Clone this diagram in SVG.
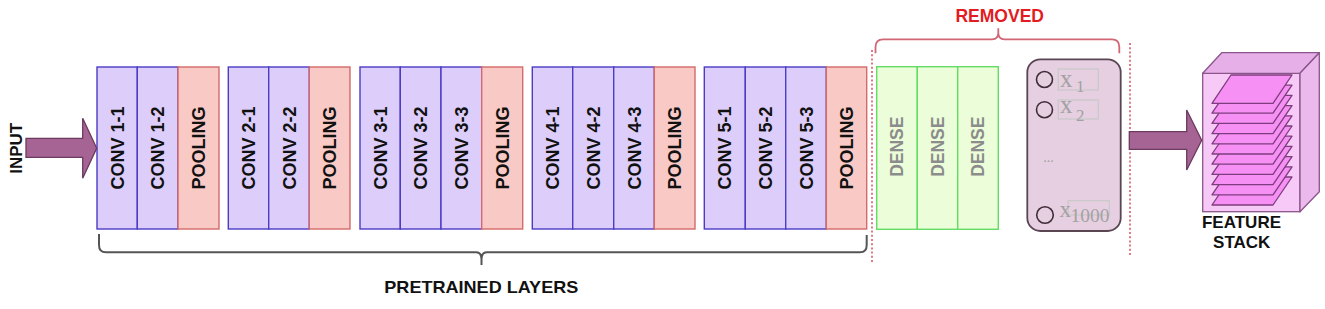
<svg xmlns="http://www.w3.org/2000/svg" width="1325" height="309" viewBox="0 0 1325 309">
<style>
.conv{fill:#dccdfa;stroke:#4a3cc4;stroke-width:1.4}
.pool{fill:#f9c9c5;stroke:#d46a6a;stroke-width:1.4}
.dense{fill:#ebfed9;stroke:#62dc62;stroke-width:1.4}
.lbl{font-family:"Liberation Sans",Arial,sans-serif;font-weight:bold;font-size:18px;fill:#111;text-anchor:middle}
.dlbl{font-family:"Liberation Sans",Arial,sans-serif;font-weight:bold;font-size:17.5px;fill:#8c8c8c;text-anchor:middle}
.cap{font-family:"Liberation Sans",Arial,sans-serif;font-weight:bold;font-size:17px;fill:#111;text-anchor:middle}
.arrow{fill:#a66494;stroke:#6b3a5e;stroke-width:1.3}
.dots{stroke:#e07b86;stroke-width:2;stroke-dasharray:2 2.2;fill:none}
.xs{font-family:"Liberation Serif","Times New Roman",serif;fill:#a2a2a2}
.xbox{fill:none;stroke:#c8c8c8;stroke-width:1.2}
.layer{fill:#f690f4;stroke:#7d3c7d;stroke-width:1.3;stroke-linejoin:round}
</style>
<rect width="1325" height="309" fill="#ffffff"/>

<!-- input label -->
<g id="input">
<text class="cap" transform="translate(22.2,148.3) rotate(-90)">INPUT</text>
</g>

<!-- block 1 -->
<g id="block1">
<rect class="conv" x="97" y="67" width="40.3" height="162"/>
<rect class="conv" x="137.3" y="67" width="40.7" height="162"/>
<rect class="pool" x="178" y="67" width="41" height="162"/>
<text class="lbl" transform="translate(123.5,148) rotate(-90)">CONV 1-1</text>
<text class="lbl" transform="translate(164,148) rotate(-90)">CONV 1-2</text>
<text class="lbl" transform="translate(205,148) rotate(-90)">POOLING</text>
</g>

<!-- block 2 -->
<g id="block2">
<rect class="conv" x="228.3" y="67" width="40.4" height="162"/>
<rect class="conv" x="268.7" y="67" width="40.6" height="162"/>
<rect class="pool" x="309.3" y="67" width="40.7" height="162"/>
<text class="lbl" transform="translate(255,148) rotate(-90)">CONV 2-1</text>
<text class="lbl" transform="translate(295.5,148) rotate(-90)">CONV 2-2</text>
<text class="lbl" transform="translate(336.2,148) rotate(-90)">POOLING</text>
</g>

<!-- block 3 -->
<g id="block3">
<rect class="conv" x="360" y="67" width="40.3" height="162"/>
<rect class="conv" x="400.3" y="67" width="40.7" height="162"/>
<rect class="conv" x="441" y="67" width="40.7" height="162"/>
<rect class="pool" x="481.7" y="67" width="41" height="162"/>
<text class="lbl" transform="translate(386.5,148) rotate(-90)">CONV 3-1</text>
<text class="lbl" transform="translate(427.2,148) rotate(-90)">CONV 3-2</text>
<text class="lbl" transform="translate(467.8,148) rotate(-90)">CONV 3-3</text>
<text class="lbl" transform="translate(508.7,148) rotate(-90)">POOLING</text>
</g>

<!-- block 4 -->
<g id="block4">
<rect class="conv" x="532.3" y="67" width="40.4" height="162"/>
<rect class="conv" x="572.7" y="67" width="41" height="162"/>
<rect class="conv" x="613.7" y="67" width="40.6" height="162"/>
<rect class="pool" x="654.3" y="67" width="40.7" height="162"/>
<text class="lbl" transform="translate(559,148) rotate(-90)">CONV 4-1</text>
<text class="lbl" transform="translate(599.7,148) rotate(-90)">CONV 4-2</text>
<text class="lbl" transform="translate(640.5,148) rotate(-90)">CONV 4-3</text>
<text class="lbl" transform="translate(681.2,148) rotate(-90)">POOLING</text>
</g>

<!-- block 5 -->
<g id="block5">
<rect class="conv" x="704.3" y="67" width="41" height="162"/>
<rect class="conv" x="745.3" y="67" width="40.4" height="162"/>
<rect class="conv" x="785.7" y="67" width="40.6" height="162"/>
<rect class="pool" x="826.3" y="67" width="40.4" height="162"/>
<text class="lbl" transform="translate(731.3,148) rotate(-90)">CONV 5-1</text>
<text class="lbl" transform="translate(772,148) rotate(-90)">CONV 5-2</text>
<text class="lbl" transform="translate(812.5,148) rotate(-90)">CONV 5-3</text>
<text class="lbl" transform="translate(853,148) rotate(-90)">POOLING</text>
</g>

<!-- dense layers -->
<g id="dense">
<rect class="dense" x="876.7" y="66.7" width="40.6" height="162.6"/>
<rect class="dense" x="917.3" y="66.7" width="40.4" height="162.6"/>
<rect class="dense" x="957.7" y="66.7" width="40.6" height="162.6"/>
<text class="dlbl" transform="translate(903.3,146.7) rotate(-90)">DENSE</text>
<text class="dlbl" transform="translate(943.8,146.7) rotate(-90)">DENSE</text>
<text class="dlbl" transform="translate(984.3,146.7) rotate(-90)">DENSE</text>
</g>

<!-- output classes -->
<g id="output">
<rect x="1027.3" y="59.3" width="93.4" height="171.7" rx="13" fill="#e6cfe1" stroke="#5a4653" stroke-width="1.8"/>
<circle cx="1044.5" cy="79.5" r="8" fill="none" stroke="#3e2c38" stroke-width="1.6"/>
<circle cx="1044.5" cy="109.7" r="8" fill="none" stroke="#3e2c38" stroke-width="1.6"/>
<circle cx="1045" cy="215" r="8.3" fill="none" stroke="#3e2c38" stroke-width="1.6"/>
<rect class="xbox" x="1058.3" y="69" width="40" height="21"/>
<rect class="xbox" x="1058.3" y="100" width="40" height="19"/>
<rect class="xbox" x="1068.3" y="200.7" width="41" height="14.3"/>
<text class="xs" x="1060" y="87" font-size="25">x</text>
<text class="xs" x="1076" y="91.5" font-size="17">1</text>
<text class="xs" x="1060" y="113" font-size="25">x</text>
<text class="xs" x="1076" y="121" font-size="17">2</text>
<text class="xs" x="1059.5" y="216.5" font-size="23">x</text>
<text class="xs" x="1070.5" y="222" font-size="18" textLength="39" lengthAdjust="spacingAndGlyphs">1000</text>
<text class="xs" x="1048.5" y="162" font-size="14" text-anchor="middle">...</text>
</g>

<!-- feature stack -->
<g id="feature-stack">
<rect x="1202.7" y="73.3" width="97.3" height="138.4" fill="#f6c9f6" stroke="#8a558a" stroke-width="1.3"/>
<polygon points="1202.7,73.3 1221.7,52.7 1319.3,52.7 1300,73.3" fill="#e7afe7" stroke="#8a558a" stroke-width="1.3" stroke-linejoin="round"/>
<polygon points="1300,73.3 1319.3,52.7 1319.3,191.7 1300,211.7" fill="#ecb9ec" stroke="#8a558a" stroke-width="1.3" stroke-linejoin="round"/>
<polygon class="layer" points="1212,205 1273,205 1292,177 1231,177"/>
<polygon class="layer" points="1212,194.8 1273,194.8 1292,166.8 1231,166.8"/>
<polygon class="layer" points="1212,184.6 1273,184.6 1292,156.6 1231,156.6"/>
<polygon class="layer" points="1212,174.4 1273,174.4 1292,146.4 1231,146.4"/>
<polygon class="layer" points="1212,164.2 1273,164.2 1292,136.2 1231,136.2"/>
<polygon class="layer" points="1212,154 1273,154 1292,126 1231,126"/>
<polygon class="layer" points="1212,143.8 1273,143.8 1292,115.8 1231,115.8"/>
<polygon class="layer" points="1212,133.6 1273,133.6 1292,105.6 1231,105.6"/>
<polygon class="layer" points="1212,123.4 1273,123.4 1292,95.4 1231,95.4"/>
<polygon class="layer" points="1212,113.2 1273,113.2 1292,85.2 1231,85.2"/>
<polygon class="layer" points="1212,103.3 1273,103.3 1292,75 1231,75"/>
<text class="cap" x="1241.5" y="228.3">FEATURE</text>
<text class="cap" x="1241.7" y="248.3">STACK</text>
</g>

<!-- annotations: braces and dotted separators -->
<g id="annotations">
<path d="M99,234 V245 Q99,252.3 106,252.3 H476 Q481.5,252.3 481.5,259 V265 M481.5,259 Q481.5,252.3 487,252.3 H860 Q866.7,252.3 866.7,245 V235" fill="none" stroke="#555" stroke-width="2"/>
<text class="cap" x="481.3" y="292.7" textLength="194" lengthAdjust="spacingAndGlyphs">PRETRAINED LAYERS</text>
<path d="M875.5,53.3 V47 Q875.5,39.3 883,39.3 H992 Q998.3,39.3 998.3,33 V28.3 M998.3,33 Q998.3,39.3 1004.5,39.3 H1112 Q1119.3,39.3 1119.3,47 V53.3" fill="none" stroke="#d26674" stroke-width="1.8"/>
<text x="999.7" y="21.6" font-family="Liberation Sans, Arial, sans-serif" font-weight="bold" font-size="17.5" fill="#e31b23" text-anchor="middle">REMOVED</text>
<line class="dots" x1="872" y1="50" x2="872" y2="263"/>
<line class="dots" x1="1130" y1="43" x2="1130" y2="257"/>
</g>

<!-- connectors -->
<g id="connectors">
<polygon class="arrow" points="26,138.3 82.7,138.3 82.7,118.3 96.7,148.3 82.7,178.3 82.7,157.3 26,157.3"/>
<polygon class="arrow" points="1129.3,131.7 1186.7,131.7 1186.7,110 1201.7,140.3 1186.7,170 1186.7,149.3 1129.3,149.3"/>
</g>
</svg>
